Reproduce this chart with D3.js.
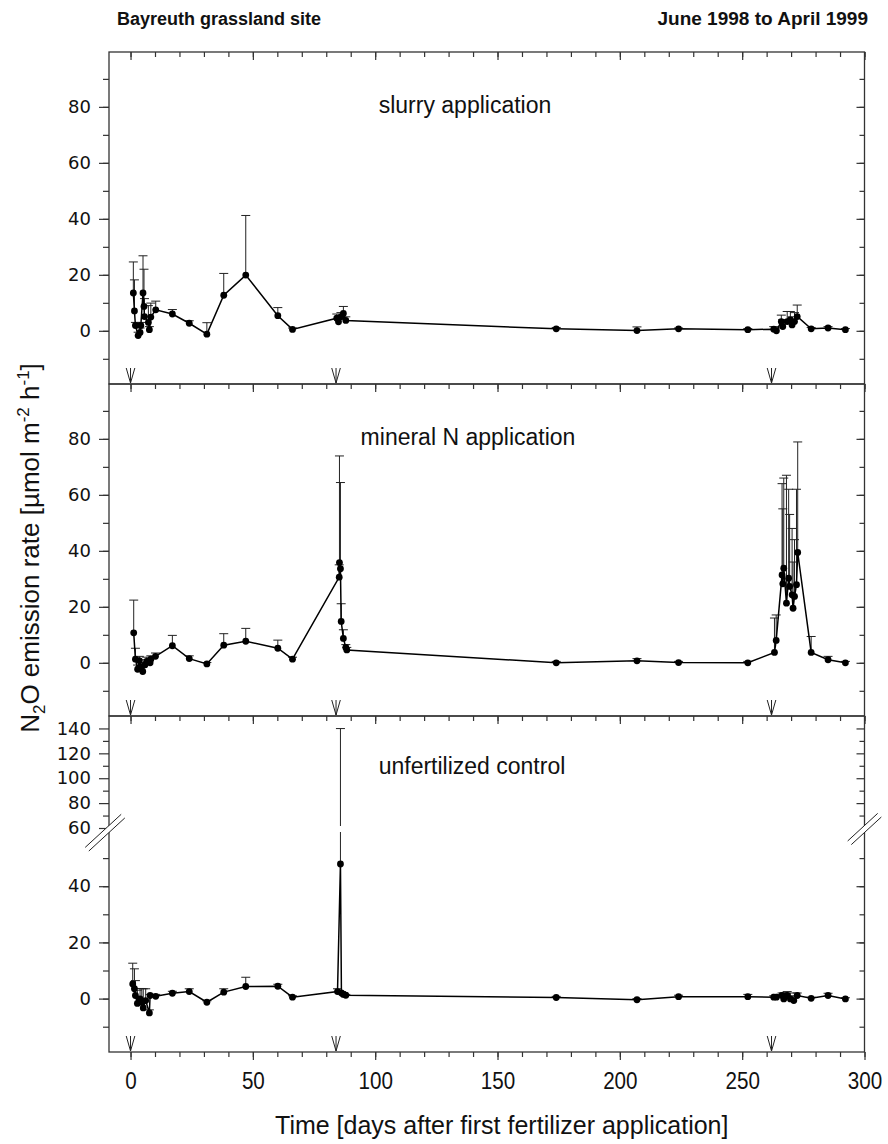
<!DOCTYPE html>
<html>
<head>
<meta charset="utf-8">
<script src="https://cdn.jsdelivr.net/npm/d3@7"></script>
<style>
body{margin:0;background:#fff}
text{font-family:"Liberation Sans",Arial,sans-serif;fill:#111}
</style>
</head>
<body>
<svg id="svg" width="888" height="1144"></svg>
<script>
// days after first fertilizer application
var slurryDay=[1.15,1.6,2.0,3.1,3.9,4.2,5.1,5.5,5.7,7.3,7.7,8.3,10.3,17.1,24,31.2,38.1,47.1,60.2,66.2,84.3,85,86,87,88,174,207,224,252.3,262.9,264,266,266.6,268.4,269.7,270.4,271.4,272.5,278.2,285.1,292.2];
var slurryN2O=[13.5,7.1,1.9,-1.7,-0.6,1.9,13.5,8.7,5.1,3.0,0.4,4.9,7.5,6.0,2.7,-1.2,12.7,19.9,5.4,0.5,4.5,3.2,5.0,6.2,3.7,0.7,0.1,0.7,0.4,0.6,0.0,3.3,1.5,3.3,3.9,2.1,3.3,5.1,0.7,1.0,0.4];
var slurrySE=[11.1,11.1,1.1,1.2,1.6,1.1,13.3,13.3,6.4,6,1.1,5,3.1,1.6,0.9,4.1,7.8,21.3,2.9,0.5,1.5,1.8,1.5,2.5,1.3,0.5,1.3,0.3,0.4,0.9,1,2.3,2.5,3.6,3,2.9,3.2,4.1,0.5,0.5,0.4];

var mineralDay=[1.3,2.0,2.9,3.6,4.3,5.0,5.9,6.6,8.0,8.3,10.2,17.1,24,31.2,38.1,47.1,60.2,66.2,85.3,85.4,85.8,86.1,87.0,88.0,88.4,174,207,224,252.3,263.2,263.9,266.3,266.6,267,268.1,269,269.4,270.4,270.8,271.4,272.2,272.7,278.2,285.1,292.2];
var mineralN2O=[10.7,1.3,-2.3,0.8,-1.5,-3.1,-0.7,0.5,0.0,1.3,2.3,6.1,1.5,-0.4,6.3,7.7,5.2,1.3,30.6,35.8,33.6,14.8,8.7,5.5,4.6,0.0,0.7,0.1,0.0,3.7,8.0,31.4,28.2,33.8,21.3,30.2,27.3,24.3,19.5,23.7,27.9,39.4,3.7,1.1,0.0];
var mineralSE=[11.7,3.9,1.5,1.5,1.5,1.5,1.8,1.5,1.5,1.2,1.2,3.7,1.0,0.5,4.1,4.6,2.9,0.7,4.4,38.1,30.8,6.3,3.1,1.0,0.9,0.5,0.8,0.4,0.5,12.3,9.1,32.6,26.8,32.2,45.7,31.8,25.7,23.7,16.5,20.3,34.1,39.5,5.7,1.2,0.5];

var controlDay=[0.9,1.6,2.0,2.8,3.9,4.6,5.2,6.2,7.7,8.0,10.3,17.1,24,31.2,38.1,47.1,60.2,66.2,84.6,85.8,86.2,87,88,174,207,224,252.3,262.9,264,266.3,267,268.4,269.7,271.1,272.5,278.2,285.1,292.2];
var controlN2O=[5.2,3.5,1.1,-1.7,-0.1,-1.3,-3.3,-0.7,-5.1,1.1,0.8,1.9,2.5,-1.3,2.3,4.3,4.4,0.5,2.5,47.9,2.0,1.5,1.2,0.4,-0.4,0.7,0.7,0.5,0.5,1.1,-0.1,1.1,-0.1,-0.7,1.1,0.1,1.1,-0.1];
var controlSE=[7.4,7.1,5.3,4.7,3.7,4.9,6.8,4.2,1.1,0.4,0.7,0.7,1.0,0.5,1.2,3.3,0.7,0.5,1.0,92,0.5,0.5,0.3,0.4,0.4,0.5,0.8,0.5,1.0,0.9,2.1,1.4,2.1,1.7,0.9,0.4,0.8,0.4];

var applicationDays=[0,84,262];
var xLabelTicks=[0,50,100,150,200,250,300];
var yLabelTicks=[0,20,40,60,80];
var yUpperLabelTicks=[60,80,100,120,140];

var svg=d3.select("#svg");
var frameColor="#333";

var x=d3.scaleLinear().domain([-8.8,300]).range([109,864.5]);
var left=x.range()[0], right=x.range()[1];

var panels=[
  {label:"slurry application", day:slurryDay, val:slurryN2O, se:slurrySE, top:52, bottom:384, labelX:465, labelY:113},
  {label:"mineral N application", day:mineralDay, val:mineralN2O, se:mineralSE, top:384, bottom:716, labelX:468, labelY:445},
  {label:"unfertilized control", day:controlDay, val:controlN2O, se:controlSE, top:716, bottom:1052, labelX:472, labelY:774, broken:true}
];

function noDomain(g){ g.select(".domain").remove(); }

panels.forEach(function(p){
  var yLow, yHigh, y;
  if(p.broken){
    yLow=d3.scaleLinear().domain([-19,60]).range([p.bottom,830]);
    yHigh=d3.scaleLinear().domain([60,150]).range([828,p.top]);
    y=function(v){ return v<=60 ? yLow(v) : yHigh(v); };
  } else {
    yLow=d3.scaleLinear().domain([-19,99.6]).range([p.bottom,p.top]);
    y=yLow;
  }

  var g=svg.append("g");

  // frame
  g.append("rect").attr("x",left).attr("y",p.top)
    .attr("width",right-left).attr("height",p.bottom-p.top)
    .attr("fill","none").attr("stroke",frameColor).attr("stroke-width",1.3);

  // x ticks: inside on top of first panel, pointing down at the bottom of each panel
  var minorX=d3.range(0,301,10);
  if(p.top===52){
    g.append("g").attr("transform","translate(0,"+p.top+")")
      .call(d3.axisTop(x).tickValues(minorX).tickSize(-5).tickFormat("")).call(noDomain);
    g.append("g").attr("transform","translate(0,"+p.top+")")
      .call(d3.axisTop(x).tickValues(xLabelTicks).tickSize(-8).tickFormat("")).call(noDomain);
  }
  g.append("g").attr("transform","translate(0,"+p.bottom+")")
    .call(d3.axisBottom(x).tickValues(minorX).tickSize(5).tickFormat("")).call(noDomain);
  g.append("g").attr("class","xmaj").attr("transform","translate(0,"+p.bottom+")")
    .call(d3.axisBottom(x).tickValues(xLabelTicks).tickSize(8).tickPadding(12)
      .tickFormat(p.broken ? d3.format("d") : "")).call(noDomain);

  // y ticks left (outward) and right (inward)
  var minorY=d3.range(-10,p.broken?51:91,10);
  var majorY=p.broken ? [0,20,40] : yLabelTicks;
  g.append("g").attr("transform","translate("+left+",0)")
    .call(d3.axisLeft(yLow).tickValues(minorY).tickSize(6).tickFormat("")).call(noDomain);
  g.append("g").attr("class","ylab").attr("transform","translate("+left+",0)")
    .call(d3.axisLeft(yLow).tickValues(majorY).tickSize(10).tickPadding(8).tickFormat(d3.format("d"))).call(noDomain);
  g.append("g").attr("transform","translate("+right+",0)")
    .call(d3.axisRight(yLow).tickValues(minorY).tickSize(-5).tickFormat("")).call(noDomain);
  g.append("g").attr("transform","translate("+right+",0)")
    .call(d3.axisRight(yLow).tickValues(majorY).tickSize(-8).tickFormat("")).call(noDomain);
  if(p.broken){
    var upMinor=[70,90,110,130];
    g.append("g").attr("transform","translate("+left+",0)")
      .call(d3.axisLeft(yHigh).tickValues(upMinor).tickSize(6).tickFormat("")).call(noDomain);
    g.append("g").attr("class","ylab").attr("transform","translate("+left+",0)")
      .call(d3.axisLeft(yHigh).tickValues(yUpperLabelTicks).tickSize(10).tickPadding(8).tickFormat(d3.format("d"))).call(noDomain);
    g.append("g").attr("transform","translate("+right+",0)")
      .call(d3.axisRight(yHigh).tickValues(upMinor).tickSize(-5).tickFormat("")).call(noDomain);
    g.append("g").attr("transform","translate("+right+",0)")
      .call(d3.axisRight(yHigh).tickValues(yUpperLabelTicks.slice(1)).tickSize(-8).tickFormat("")).call(noDomain);
  }

  // application arrows
  applicationDays.forEach(function(d){
    var ax=x(d), b=p.bottom-1;
    g.append("path")
      .attr("d","M"+ax+","+(b-15)+"L"+ax+","+b+"M"+(ax-4.3)+","+(b-15)+"L"+ax+","+b+"L"+(ax+4.3)+","+(b-15))
      .attr("fill","none").attr("stroke","#222").attr("stroke-width",1);
  });

  // error bars (upper only)
  var pts=p.day.map(function(d,i){ return {d:d, v:p.val[i], t:p.val[i]+p.se[i]}; });
  var eb=g.append("g").attr("stroke","#222").attr("stroke-width",1);
  pts.forEach(function(o){
    var cx=x(o.d);
    if(p.broken && o.t>60){
      eb.append("line").attr("x1",cx).attr("x2",cx).attr("y1",y(o.v)).attr("y2",832);
      eb.append("line").attr("x1",cx).attr("x2",cx).attr("y1",826).attr("y2",y(o.t));
    } else {
      eb.append("line").attr("x1",cx).attr("x2",cx).attr("y1",y(o.v)).attr("y2",y(o.t));
    }
    eb.append("line").attr("x1",cx-4.5).attr("x2",cx+4.5).attr("y1",y(o.t)).attr("y2",y(o.t));
  });

  // connecting line
  g.append("path").datum(pts)
    .attr("d",d3.line().x(function(o){return x(o.d);}).y(function(o){return y(o.v);}))
    .attr("fill","none").attr("stroke","#000").attr("stroke-width",1.5);

  // symbols
  g.selectAll("circle.pt").data(pts).enter().append("circle")
    .attr("cx",function(o){return x(o.d);})
    .attr("cy",function(o){return y(o.v);})
    .attr("r",3.4).attr("fill","#000");

  // panel label
  g.append("text").attr("x",p.labelX).attr("y",p.labelY)
    .attr("text-anchor","middle").style("font-size","23px").text(p.label);

  // axis break marks
  if(p.broken){
    [[left,22,14],[right,15,15]].forEach(function(b){
      var bx=b[0], cy=829, dl=b[1], dr=b[2], s=0.92;
      g.append("line").attr("x1",bx-dl).attr("y1",cy+dl*s).attr("x2",bx+dr).attr("y2",cy-dr*s)
        .attr("stroke","#fff").attr("stroke-width",5);
      [-2.6,2.6].forEach(function(o){
        g.append("line").attr("x1",bx-dl+o*0.7).attr("y1",cy+dl*s+o*0.7).attr("x2",bx+dr+o*0.7).attr("y2",cy-dr*s+o*0.7)
          .attr("stroke","#222").attr("stroke-width",1);
      });
    });
  }
});

svg.selectAll(".tick line").attr("stroke",frameColor).attr("stroke-width",1.2);
svg.selectAll(".ylab text").style("font-family","'DejaVu Sans',sans-serif").style("font-size","18px");
// narrow-looking x tick labels
svg.selectAll(".xmaj text").style("font-size","24px").attr("transform","scale(0.86,1)");

// titles
svg.append("text").attr("x",117).attr("y",25).style("font-size","18px").style("font-weight","bold")
  .text("Bayreuth grassland site");
svg.append("text").attr("x",868).attr("y",25).attr("text-anchor","end").style("font-size","19px").style("font-weight","bold")
  .text("June 1998 to April 1999");

svg.append("text").attr("x",(left+right)/2+15).attr("y",1134).attr("text-anchor","middle")
  .style("font-size","25px")
  .text("Time [days after first fertilizer application]");

var yt=svg.append("text").attr("transform","translate(39,548) rotate(-90)")
  .attr("text-anchor","middle").style("font-size","26px");
yt.append("tspan").text("N");
yt.append("tspan").attr("dy",6).style("font-size","17px").text("2");
yt.append("tspan").attr("dy",-6).text("O emission rate [µmol m");
yt.append("tspan").attr("dy",-10).style("font-size","17px").text("-2");
yt.append("tspan").attr("dy",10).text(" h");
yt.append("tspan").attr("dy",-10).style("font-size","17px").text("-1");
yt.append("tspan").attr("dy",10).text("]");
</script>
</body>
</html>
